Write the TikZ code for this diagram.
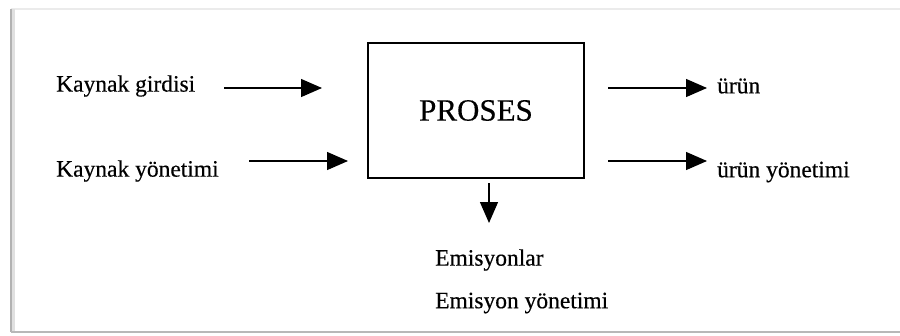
\documentclass[tikz,border=0pt]{standalone}
\usepackage{fontspec}
\setmainfont{Liberation Serif}[FakeBold=0.4]
\usetikzlibrary{arrows.meta}
\tikzset{
  lbl/.style={anchor=west,inner sep=0pt,font=\fontsize{23.5}{27}\selectfont},
  flow/.style={line width=1.3pt,-{Triangle[length=21pt,width=18pt]}},
  procbox/.style={draw,line width=1.8pt,minimum width=216pt,minimum height=135pt,inner sep=0pt,font=\fontsize{31}{36}\selectfont},
  edgeline/.style={line width=1.4pt}
}
\begin{document}
\begin{tikzpicture}[x=1pt,y=-1pt]
\useasboundingbox (0,0) rectangle (900,335);
\fill[white] (0,0) rectangle (900,335);
\coordinate (tl) at (11,9);
\coordinate (tr) at (900,9);
\coordinate (bl) at (11,332);
\coordinate (br) at (900,332);
\draw[black!8,line width=2pt] (tl) -- (tr);
\draw[black!12,line width=3pt] ([xshift=2pt]tl) -- ([xshift=2pt]bl);
\draw[black!30,edgeline] (tl) -- (bl);
\draw[black!28,edgeline] (bl) -- (br);
\node[procbox] (p) at (476,110.5) {PROSES};
\node[lbl] (kg) at (56,86) {Kaynak girdisi};
\node[lbl] (ky) at (56,171) {Kaynak yönetimi};
\node[lbl] (u) at (717,86) {ürün};
\node[lbl] (uy) at (717,172) {ürün yönetimi};
\node[lbl] (e) at (435,260) {Emisyonlar};
\node[lbl] (ey) at (435,303) {Emisyon yönetimi};
\coordinate (a1s) at (224,88);
\coordinate (a1e) at (322,88);
\coordinate (a2s) at (249,161);
\coordinate (a2e) at (348,161);
\coordinate (b1s) at (608,88);
\coordinate (b1e) at (707,88);
\coordinate (b2s) at (608,161);
\coordinate (b2e) at (707,161);
\coordinate (ds) at (489,183);
\coordinate (de) at (489,223);
\draw[flow] (a1s) -- (a1e);
\draw[flow] (a2s) -- (a2e);
\draw[flow] (b1s) -- (b1e);
\draw[flow] (b2s) -- (b2e);
\draw[flow] (ds) -- (de);
\end{tikzpicture}
\end{document}
